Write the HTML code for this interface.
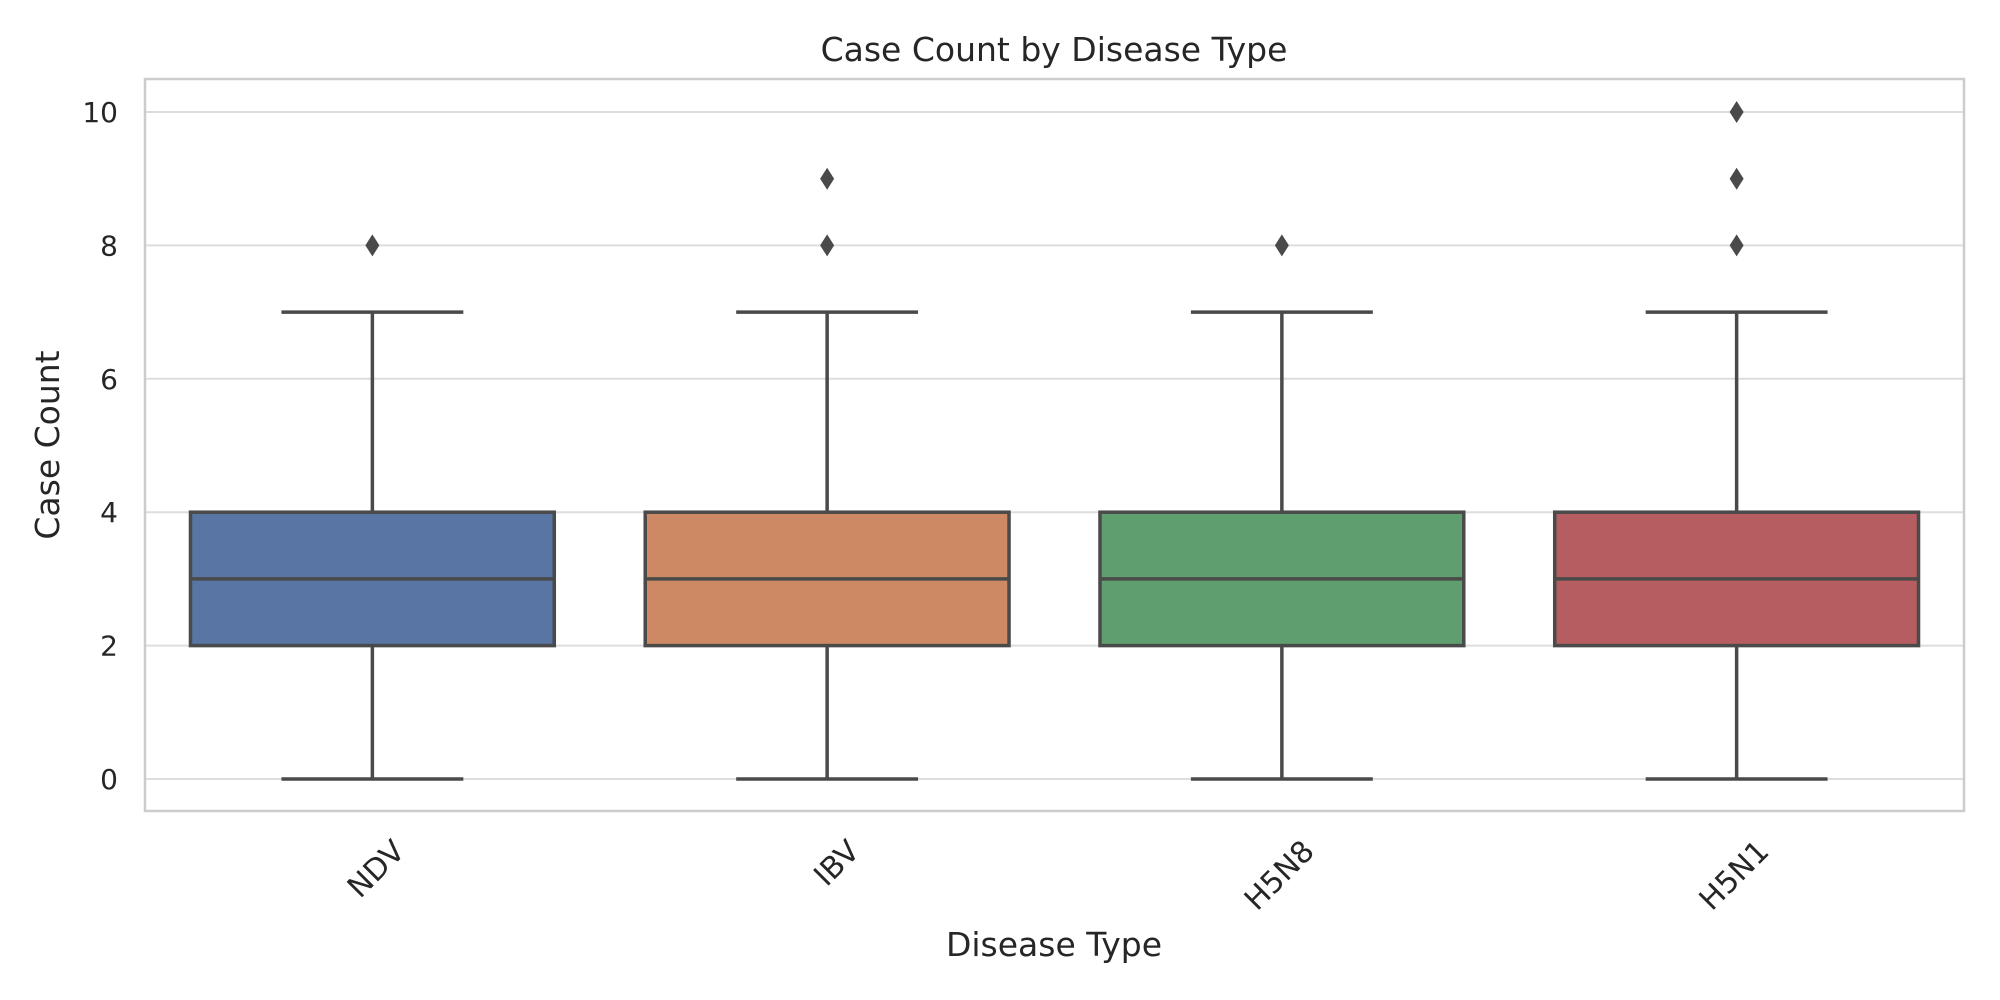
<!DOCTYPE html>
<html><head><meta charset="utf-8"><style>body{margin:0;background:#fff}svg{display:block;font-family:"DejaVu Sans","Liberation Sans",sans-serif}</style></head>
<body>
<svg id="chart" width="2000" height="1000">
<text x="1054" y="61" text-anchor="middle" font-size="33" fill="#262626">Case Count by Disease Type</text>
<text x="1054" y="956" text-anchor="middle" font-size="33" fill="#262626">Disease Type</text>
<text transform="translate(59,445) rotate(-90)" text-anchor="middle" font-size="33" fill="#262626">Case Count</text>
<g id="grid"></g><g id="boxes"></g><g id="ticks"></g>
<rect x="145" y="79" width="1819" height="732" fill="none" stroke="#cccccc" stroke-width="2.5"/>
</svg>
<script>
const categories = ["NDV","IBV","H5N8","H5N1"];
const q1 = [2,2,2,2];
const medians = [3,3,3,3];
const q3 = [4,4,4,4];
const whiskLow = [0,0,0,0];
const whiskHigh = [7,7,7,7];
const outliers = [[8],[8,9],[8],[8,9,10]];
const yTicks = [0,2,4,6,8,10];
const colors = ["#5875a4","#cc8963","#5f9e6e","#b55d60"];
const NS="http://www.w3.org/2000/svg";
const L=145,R=1964,T=79,B=811;
const y=v=>779-(v/10)*(779-112);
const band=(R-L)/categories.length;
const x=i=>L+band*(i+0.5);
function mk(t,a,p){const e=document.createElementNS(NS,t);for(const k in a)e.setAttribute(k,a[k]);p.appendChild(e);return e;}
const grid=document.getElementById('grid'),ticks=document.getElementById('ticks'),boxes=document.getElementById('boxes');
yTicks.forEach(v=>{
 const g=mk('line',{x1:L,x2:R,y1:y(v),y2:y(v),stroke:'#dddddd','stroke-width':2},grid);
 
 
 const t=mk('text',{x:L-27,y:y(v)+10,'text-anchor':'end','font-size':28,fill:'#262626'},ticks);
 t.textContent=v;
 
 
});
const bw=band*0.8, cw=bw*0.5, st='#4a4a4a';
categories.forEach((c,i)=>{
 const cx=x(i);
 const g=mk('g',{},boxes);
 
 
 mk('line',{x1:cx,x2:cx,y1:y(whiskLow[i]),y2:y(q1[i]),stroke:st,'stroke-width':3.5},g);
 mk('line',{x1:cx,x2:cx,y1:y(q3[i]),y2:y(whiskHigh[i]),stroke:st,'stroke-width':3.5},g);
 mk('line',{x1:cx-cw/2,x2:cx+cw/2,y1:y(whiskLow[i]),y2:y(whiskLow[i]),stroke:st,'stroke-width':3.5},g);
 mk('line',{x1:cx-cw/2,x2:cx+cw/2,y1:y(whiskHigh[i]),y2:y(whiskHigh[i]),stroke:st,'stroke-width':3.5},g);
 mk('rect',{x:cx-bw/2,y:y(q3[i]),width:bw,height:y(q1[i])-y(q3[i]),fill:colors[i],stroke:st,'stroke-width':3.5},g);
 mk('line',{x1:cx-bw/2,x2:cx+bw/2,y1:y(medians[i]),y2:y(medians[i]),stroke:st,'stroke-width':3.5},g);
 outliers[i].forEach(v=>{
  const p=mk('path',{d:`M${cx},${y(v)-11}L${cx+7},${y(v)}L${cx},${y(v)+11}L${cx-7},${y(v)}Z`,fill:st},g);
  
  
 });
 const t=mk('text',{transform:`translate(${cx+34},${B+42}) rotate(-45)`,'text-anchor':'end','font-size':30,fill:'#262626'},ticks);
 t.textContent=c;
 
 
});
</script>
</body></html>
